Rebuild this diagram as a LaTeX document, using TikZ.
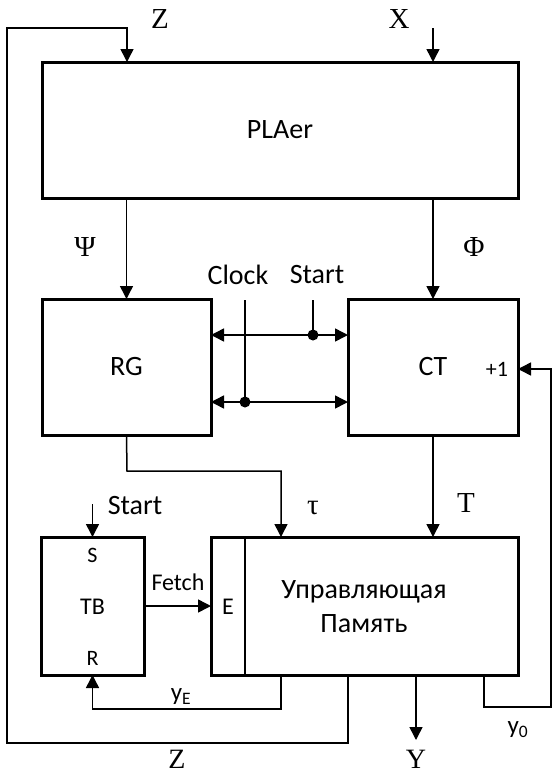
\documentclass[tikz,border=0pt]{standalone}
\usepackage{fontspec}
\setmainfont{Carlito}
\newfontfamily\ser{Liberation Serif}
\usetikzlibrary{arrows.meta}
\begin{document}
\begin{tikzpicture}[x=1pt,y=-1pt,
  box/.style={draw,line width=3pt,inner sep=0pt,outer sep=0pt,font=\fontsize{28}{30}\selectfont},
  conn/.style={line width=1.5pt},
  arr/.style={conn,-{Triangle[length=13pt,width=13pt]}},
  arrtwo/.style={conn,{Triangle[length=13pt,width=13pt]}-{Triangle[length=13pt,width=13pt]}},
  sl/.style={font=\ser\fontsize{29}{31}\selectfont,inner sep=0pt},
  tl/.style={font=\fontsize{28}{30}\selectfont,inner sep=0pt},
  dotc/.style={circle,fill,inner sep=0pt,minimum size=11pt}]
\useasboundingbox (0,0) rectangle (552,774);
% boxes
\node[box,minimum width=476pt,minimum height=136pt] (pla) at (280,130) {PLAer};
\node[box,minimum width=169pt,minimum height=136pt] (rg) at (126.5,367) {RG};
\node[box,minimum width=170pt,minimum height=136pt] (ct) at (433,367) {CT};
\node[box,minimum width=103pt,minimum height=138pt] (tb) at (92.5,606) {};
\node[box,minimum width=307pt,minimum height=138pt] (mem) at (364.5,606) {};
\coordinate (ediv) at (245,0);
\draw[conn] (ediv |- mem.north) -- (ediv |- mem.south);
% texts inside boxes
\node[tl,font=\fontsize{24}{26}\selectfont] (tbl) at (92.5,607) {TB};
\node[tl,font=\fontsize{22}{24}\selectfont] (sl) at (92.5,555) {S};
\node[tl,font=\fontsize{22}{24}\selectfont] (rl) at (92.5,658) {R};
\node[tl,font=\fontsize{24}{26}\selectfont] (el) at (228,607) {E};
\node[tl,align=center,font=\fontsize{28}{34}\selectfont] (meml) at (364,607) {Управляющая\\Память};
\node[tl,font=\fontsize{22}{24}\selectfont] (plus) at (497,369) {+1};
% coordinates
\coordinate (zx) at (348,0);
\coordinate (zbot) at (348,743);
\coordinate (zleft) at (7,743);
\coordinate (ztopl) at (7,28);
\coordinate (ztopr) at (127,28);
\coordinate (xin) at (433,28);
\coordinate (clk) at (245,300);
\coordinate (clkd) at (245,402);
\coordinate (st) at (313,300);
\coordinate (std) at (313,335);
\coordinate (yox) at (484,0);
\coordinate (yob) at (484,707);
\coordinate (yor) at (551,707);
\coordinate (yot) at (551,369);
\coordinate (taua) at (127,471);
\coordinate (taub) at (281,471);
\coordinate (tbst) at (92.5,504);
\coordinate (yea) at (281,709);
\coordinate (yeb) at (92.5,709);
\coordinate (yx) at (416,0);
\coordinate (yend) at (416,740);
% connectors
\draw[arr] (zx |- mem.south) -- (zbot) -- (zleft) -- (ztopl) -- (ztopr) -- (ztopr |- pla.north);
\draw[arr] (xin) -- (xin |- pla.north);
\draw[arr] (pla.south -| rg.north) -- (rg.north);
\draw[arr] (pla.south -| ct.north) -- (ct.north);
\draw[arrtwo] (rg.east |- std) -- (ct.west |- std);
\draw[arrtwo] (rg.east |- clkd) -- (ct.west |- clkd);
\draw[conn] (clk) -- (clkd);
\draw[conn] (st) -- (std);
\node[dotc] (d1) at (clkd) {};
\node[dotc] (d2) at (std) {};
\draw[arr] (yox |- mem.south) -- (yob) -- (yor) -- (yot) -- (yot -| ct.east);
\draw[arr] (rg.south) -- (taua) -- (taub) -- (taub |- mem.north);
\draw[arr] (ct.south) -- (ct.south |- mem.north);
\draw[arr] (tbst) -- (tb.north);
\draw[arr] (tb.east) -- (mem.west);
\draw[arr] (taub |- mem.south) -- (yea) -- (yeb) -- (tb.south);
\draw[arr] (yx |- mem.south) -- (yend);
% labels
\node[sl] (lz1) at (160,19) {Z};
\node[sl] (lx) at (399,19) {X};
\node[sl] (lpsi) at (85,247) {Ψ};
\node[sl] (lphi) at (474,247) {Φ};
\node[tl] (lclk) at (238,275) {Clock};
\node[tl] (lst) at (317,275) {Start};
\node[sl] (ltau) at (313,508) {τ};
\node[sl] (lt) at (466,503) {T};
\node[tl] (lst2) at (135,506) {Start};
\node[tl,font=\fontsize{24}{26}\selectfont] (lf) at (178,582) {Fetch};
\node[tl,font=\fontsize{25}{27}\selectfont] (lye) at (181,697) {y\textsubscript{E}};
\node[tl,font=\fontsize{25}{27}\selectfont] (lyo) at (518,730) {y\textsubscript{0}};
\node[sl,font=\ser\fontsize{28}{30}\selectfont] (lz2) at (177,759) {Z};
\node[sl,font=\ser\fontsize{28}{30}\selectfont] (ly) at (416,759) {Y};
\end{tikzpicture}
\end{document}
